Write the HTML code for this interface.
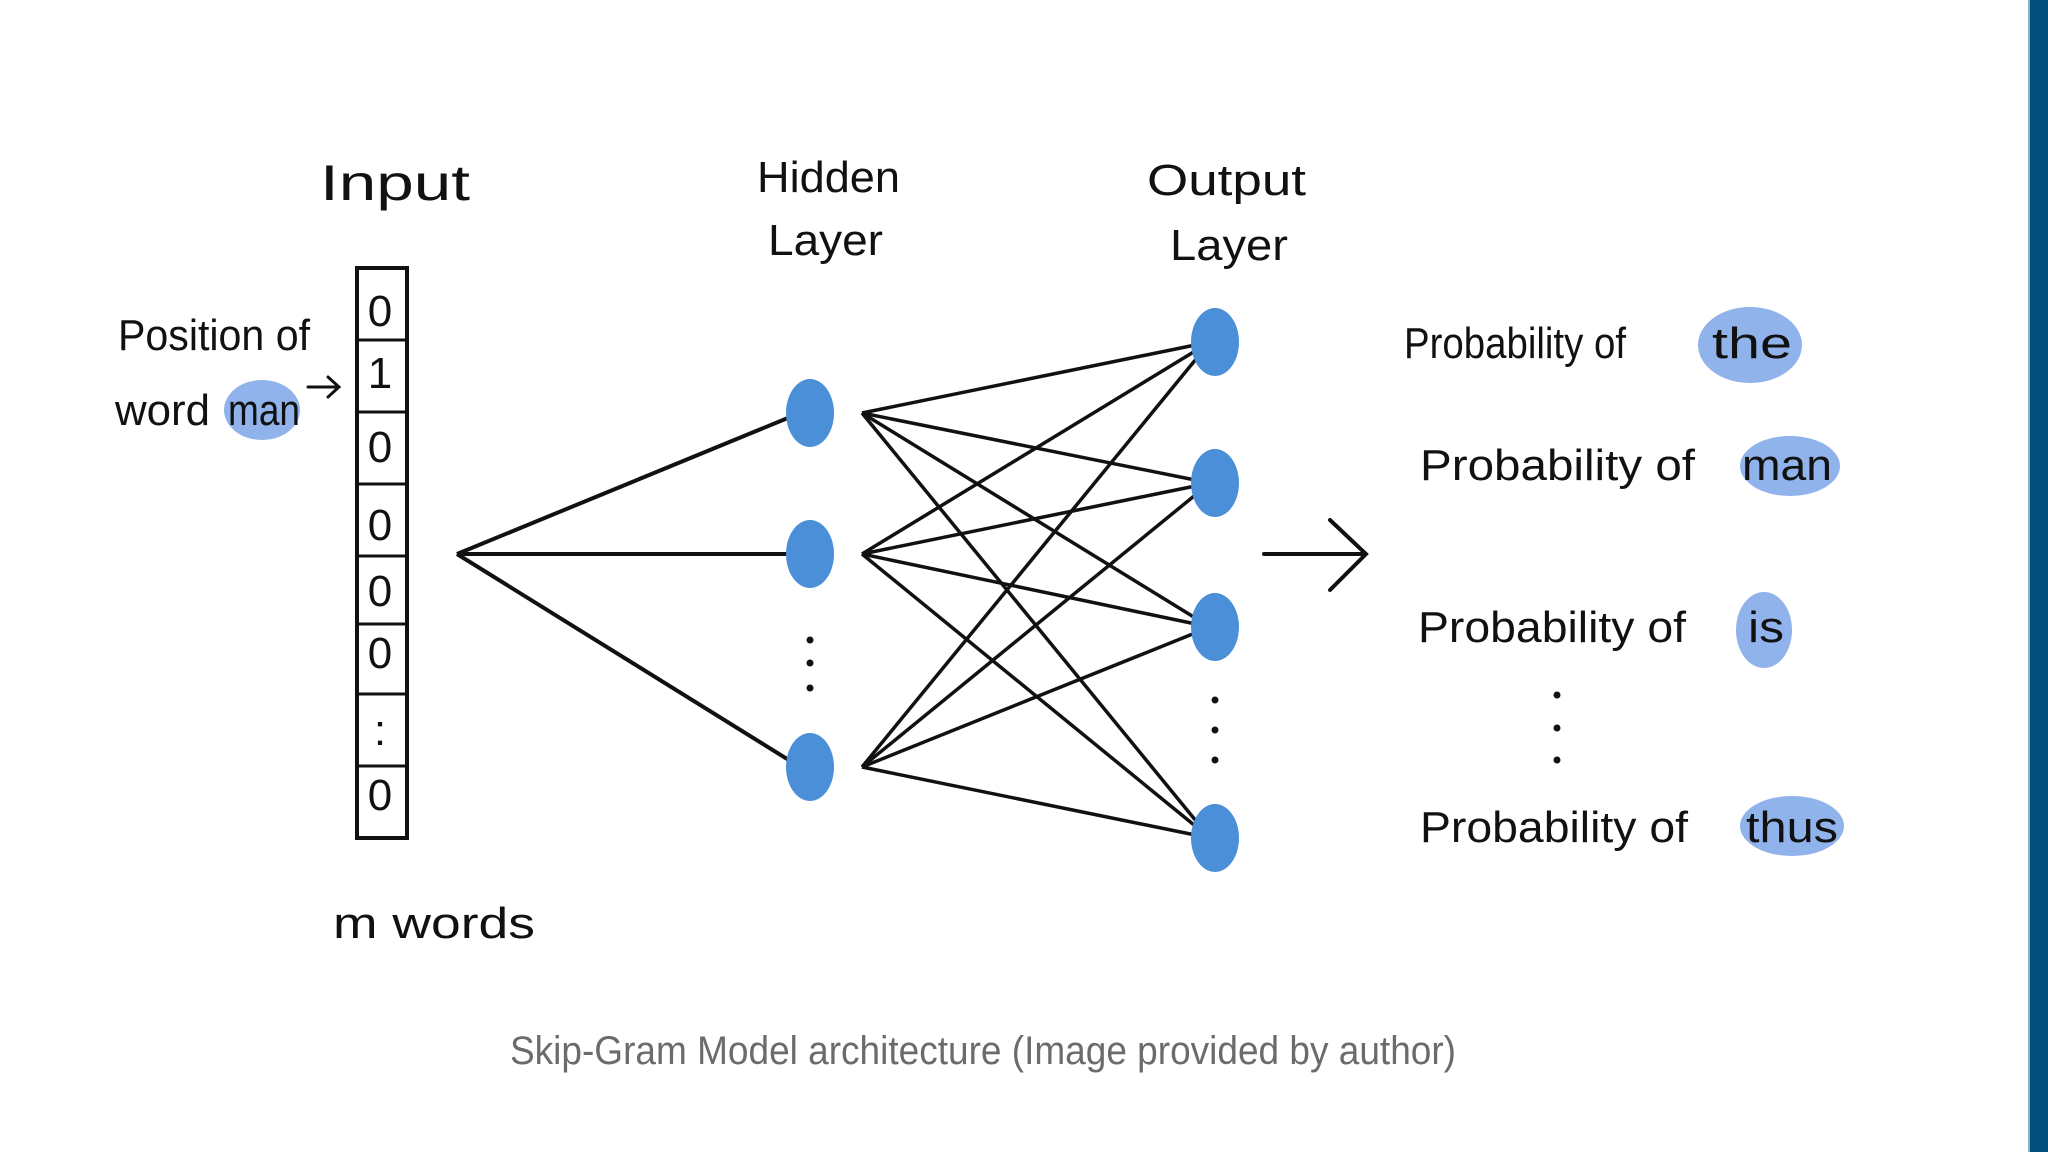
<!DOCTYPE html>
<html><head><meta charset="utf-8"><style>
html,body{margin:0;padding:0;background:#fff;width:2048px;height:1152px;overflow:hidden}
svg{display:block}
.h{font-family:"Liberation Sans",sans-serif;font-size:44px;fill:#111}
</style></head><body>
<svg width="2048" height="1152" viewBox="0 0 2048 1152">
<rect x="0" y="0" width="2048" height="1152" fill="#fff"/>
<rect x="2030" y="0" width="18" height="1152" fill="#034e7b"/>
<rect x="2028" y="0" width="2" height="1152" fill="#8fb0c8"/>

<g class="h">
<text x="320" y="200" textLength="150" lengthAdjust="spacingAndGlyphs" font-size="50">Input</text>
<text x="757" y="192" textLength="143" lengthAdjust="spacingAndGlyphs">Hidden</text>
<text x="768" y="255" textLength="115" lengthAdjust="spacingAndGlyphs">Layer</text>
<text x="1147" y="195" textLength="159" lengthAdjust="spacingAndGlyphs">Output</text>
<text x="1170" y="260" textLength="118" lengthAdjust="spacingAndGlyphs">Layer</text>
</g>

<!-- left text -->
<ellipse cx="262" cy="410" rx="38" ry="30" fill="#8fb3ea"/>
<g class="h">
<text x="118" y="350" textLength="192" lengthAdjust="spacingAndGlyphs">Position of</text>
<text x="115" y="425" textLength="95" lengthAdjust="spacingAndGlyphs">word</text>
<text x="228" y="425" textLength="72" lengthAdjust="spacingAndGlyphs">man</text>
</g>
<g stroke="#111" stroke-width="3" fill="none" stroke-linecap="round">
<line x1="308" y1="387" x2="338" y2="387"/><polyline points="328,377 339,387 328,397"/>
</g>

<!-- input vector -->
<rect x="357" y="268" width="50" height="570" fill="none" stroke="#111" stroke-width="4"/>
<g stroke="#111" stroke-width="3">
<line x1="357" y1="340" x2="407" y2="340"/><line x1="357" y1="412" x2="407" y2="412"/>
<line x1="357" y1="484" x2="407" y2="484"/><line x1="357" y1="556" x2="407" y2="556"/>
<line x1="357" y1="624" x2="407" y2="624"/><line x1="357" y1="694" x2="407" y2="694"/>
<line x1="357" y1="766" x2="407" y2="766"/>
</g>
<g class="h" font-size="32" text-anchor="middle">
<text x="380" y="326">0</text><text x="380" y="388">1</text><text x="380" y="462">0</text>
<text x="380" y="540">0</text><text x="380" y="606">0</text><text x="380" y="668">0</text>
<text x="380" y="745">:</text><text x="380" y="810">0</text>
</g>
<text class="h" x="333" y="938" textLength="202" lengthAdjust="spacingAndGlyphs">m words</text>

<g stroke="#111" stroke-width="4" fill="none">
<line x1="457" y1="554" x2="800" y2="413"/>
<line x1="457" y1="554" x2="800" y2="554"/>
<line x1="457" y1="554" x2="800" y2="767"/>
</g>
<g stroke="#111" stroke-width="3.5">
<line x1="862" y1="413" x2="1210" y2="342"/><line x1="862" y1="413" x2="1210" y2="483"/><line x1="862" y1="413" x2="1210" y2="627"/><line x1="862" y1="413" x2="1210" y2="838"/>
<line x1="862" y1="554" x2="1210" y2="342"/><line x1="862" y1="554" x2="1210" y2="483"/><line x1="862" y1="554" x2="1210" y2="627"/><line x1="862" y1="554" x2="1210" y2="838"/>
<line x1="862" y1="767" x2="1210" y2="342"/><line x1="862" y1="767" x2="1210" y2="483"/><line x1="862" y1="767" x2="1210" y2="627"/><line x1="862" y1="767" x2="1210" y2="838"/>
</g>
<g fill="#4a8fd8">
<ellipse cx="810" cy="413" rx="24" ry="34"/><ellipse cx="810" cy="554" rx="24" ry="34"/><ellipse cx="810" cy="767" rx="24" ry="34"/>
<ellipse cx="1215" cy="342" rx="24" ry="34"/><ellipse cx="1215" cy="483" rx="24" ry="34"/><ellipse cx="1215" cy="627" rx="24" ry="34"/><ellipse cx="1215" cy="838" rx="24" ry="34"/>
</g>
<g fill="#111">
<circle cx="810" cy="640" r="3.5"/><circle cx="810" cy="663" r="3.5"/><circle cx="810" cy="688" r="3.5"/>
<circle cx="1215" cy="700" r="3.5"/><circle cx="1215" cy="730" r="3.5"/><circle cx="1215" cy="760" r="3.5"/>
<circle cx="1557" cy="695" r="3.5"/><circle cx="1557" cy="728" r="3.5"/><circle cx="1557" cy="760" r="3.5"/>
</g>
<g stroke="#111" stroke-width="4" fill="none" stroke-linecap="round">
<line x1="1264" y1="554" x2="1365" y2="554"/>
<polyline points="1330,520 1366,554 1330,590"/>
</g>

<ellipse cx="1750" cy="345" rx="52" ry="38" fill="#8fb3ea"/>
<ellipse cx="1790" cy="466" rx="50" ry="30" fill="#8fb3ea"/>
<ellipse cx="1764" cy="630" rx="28" ry="38" fill="#8fb3ea"/>
<ellipse cx="1792" cy="826" rx="52" ry="30" fill="#8fb3ea"/>
<g class="h">
<text x="1404" y="358" textLength="222" lengthAdjust="spacingAndGlyphs">Probability of</text>
<text x="1712" y="358" textLength="80" lengthAdjust="spacingAndGlyphs">the</text>
<text x="1420" y="480" textLength="275" lengthAdjust="spacingAndGlyphs">Probability  of</text>
<text x="1742" y="480" textLength="90" lengthAdjust="spacingAndGlyphs">man</text>
<text x="1418" y="642" textLength="268" lengthAdjust="spacingAndGlyphs">Probability  of</text>
<text x="1748" y="642" textLength="36" lengthAdjust="spacingAndGlyphs">is</text>
<text x="1420" y="842" textLength="268" lengthAdjust="spacingAndGlyphs">Probability  of</text>
<text x="1746" y="842" textLength="92" lengthAdjust="spacingAndGlyphs">thus</text>
</g>

<text x="983" y="1064" text-anchor="middle" font-family="Liberation Sans, sans-serif" font-size="40" fill="#6b6b6b" textLength="946" lengthAdjust="spacingAndGlyphs">Skip-Gram Model architecture (Image provided by author)</text>
</svg>
</body></html>
